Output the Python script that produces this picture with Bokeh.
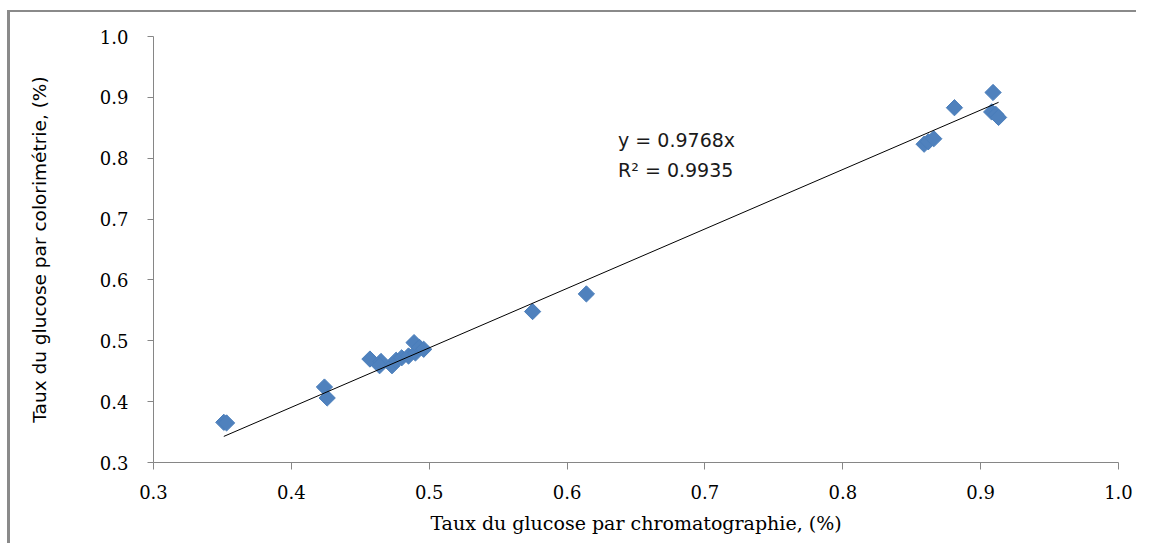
from bokeh.plotting import figure
from bokeh.models import Range1d, FixedTicker, NumeralTickFormatter, Label, ColumnDataSource
from bokeh.embed import file_html
from bokeh.resources import INLINE
import numpy as np

# Data
chromato = [0.351, 0.353, 0.424, 0.426, 0.457, 0.465, 0.464, 0.473, 0.476, 0.480,
            0.485, 0.489, 0.490, 0.493, 0.496, 0.575, 0.614, 0.859, 0.862, 0.866,
            0.881, 0.909, 0.908, 0.911, 0.913]
colori = [0.366, 0.365, 0.424, 0.406, 0.470, 0.466, 0.459, 0.459, 0.468, 0.472,
          0.475, 0.497, 0.480, 0.489, 0.486, 0.548, 0.577, 0.823, 0.827, 0.832,
          0.883, 0.908, 0.876, 0.872, 0.867]
slope = 0.9768
r2 = 0.9935
ticks = [0.3, 0.4, 0.5, 0.6, 0.7, 0.8, 0.9, 1.0]

W, H = 1129, 533
p = figure(width=W, height=H, output_backend="svg", toolbar_location=None,
           x_range=Range1d(0.3, 1.0), y_range=Range1d(0.3, 1.0),
           min_border_left=143, min_border_top=24, min_border_right=21, min_border_bottom=83)
p.styles = {"border-left": "3px solid #8a8a8a", "border-top": "2px solid #8a8a8a",
            "margin-left": "7px", "margin-top": "10px"}
p.outline_line_color = None
p.grid.visible = False
p.background_fill_color = "white"
p.border_fill_color = "white"

for ax in (p.xaxis[0], p.yaxis[0]):
    ax.ticker = FixedTicker(ticks=ticks)
    ax.formatter = NumeralTickFormatter(format="0.0")
    ax.axis_line_color = "#868686"
    ax.major_tick_line_color = "#868686"
    ax.minor_tick_line_color = None
    ax.major_tick_in = 0
    ax.major_label_text_font = "DejaVu Serif"
    ax.major_label_text_font_size = "18px"
    ax.major_label_text_color = "#000000"
    ax.axis_label_text_font_style = "normal"
    ax.axis_label_text_color = "#000000"

p.xaxis.major_tick_out = 7
p.yaxis.major_tick_out = 6
p.xaxis.major_label_standoff = 15
p.yaxis.major_label_standoff = 19
p.xaxis.axis_label = "Taux du glucose par chromatographie, (%)"
p.xaxis.axis_label_text_font = "DejaVu Serif"
p.xaxis.axis_label_text_font_size = "19px"
p.xaxis.axis_label_standoff = 10
p.yaxis.axis_label = "Taux du glucose par colorimétrie, (%)"
p.yaxis.axis_label_text_font = "DejaVu Sans"
p.yaxis.axis_label_text_font_size = "18.5px"
p.yaxis.axis_label_standoff = 47

src = ColumnDataSource(dict(x=chromato, y=colori))
p.scatter("x", "y", source=src, marker="square", size=11.5, angle=np.pi / 4,
          fill_color="#4F81BD", line_color="#4A7EBB", line_width=1)

tx = np.array([min(chromato), max(chromato)])
p.line(tx, slope * tx, line_color="#000000", line_width=1)

p.add_layout(Label(x=0.637, y=0.830, text=f"y = {slope}x", text_font="DejaVu Sans",
                   text_font_size="19px", text_baseline="middle", text_color="#1a1a1a"))
p.add_layout(Label(x=0.637, y=0.781, text=f"R² = {r2}", text_font="DejaVu Sans",
                   text_font_size="19px", text_baseline="middle", text_color="#1a1a1a"))

open("out.html", "w").write(file_html(p, INLINE))
